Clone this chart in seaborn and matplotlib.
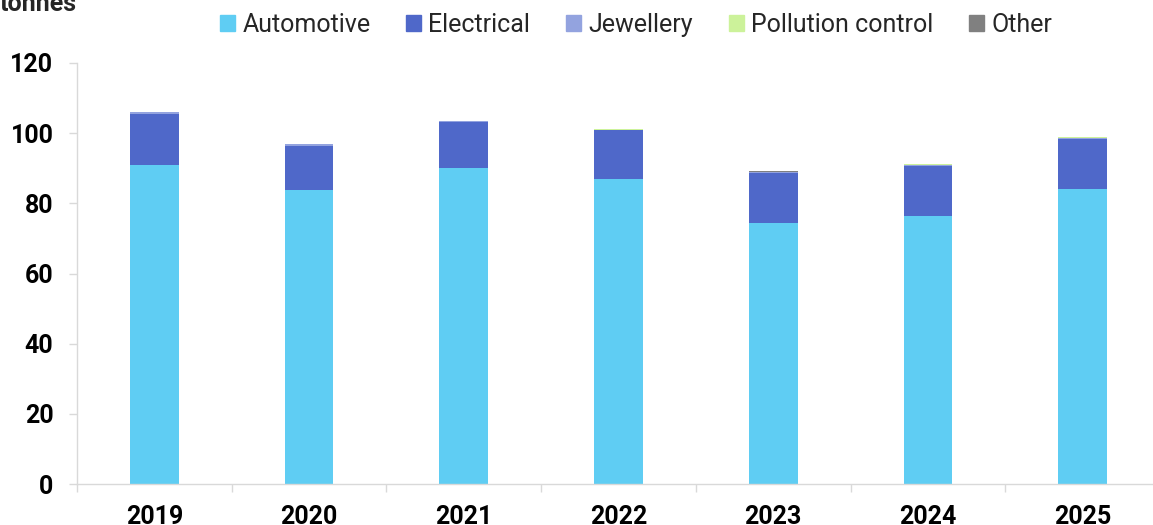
import matplotlib.pyplot as plt
import matplotlib.patches as mpatches
import numpy as np
import pandas as pd
import seaborn as sns

years = ['2019', '2020', '2021', '2022', '2023', '2024', '2025']
automotive = [90.9, 83.8, 90.0, 86.9, 74.4, 76.3, 84.1]
electrical = [14.7, 12.6, 13.1, 13.9, 14.2, 14.2, 14.1]
jewellery = [0.4, 0.4, 0.3, 0.2, 0.2, 0.3, 0.3]
pollution = [0.05, 0.05, 0.05, 0.1, 0.25, 0.3, 0.4]
other = [0.1, 0.1, 0.1, 0.1, 0.1, 0.1, 0.1]

segments = ['Automotive', 'Electrical', 'Jewellery', 'Pollution control', 'Other']
colors = ['#5FCDF3', '#4F68C9', '#93A3DF', '#CCF29A', '#808080']

df = pd.DataFrame({'year': years, 'Automotive': automotive, 'Electrical': electrical,
                   'Jewellery': jewellery, 'Pollution control': pollution, 'Other': other})

sns.set_theme(style='white')
plt.rcParams['font.family'] = ['Roboto', 'DejaVu Sans']

fig = plt.figure(figsize=(11.53, 5.25), dpi=100)
ax = fig.add_axes([77 / 1153, 41 / 525, 1083 / 1153, 421 / 525])

# stacked bars: draw cumulative totals from the top layer down
cum = df[segments].cumsum(axis=1)
for seg, col in reversed(list(zip(segments, colors))):
    sns.barplot(x=df['year'], y=cum[seg], color=col, width=0.315,
                linewidth=0, saturation=1, ax=ax)

ax.set_ylim(0, 120)
ax.set_yticks(np.arange(0, 121, 20))
ax.set_xlim(-0.5, 6.5)
ax.set_xlabel('')
ax.set_ylabel('')

sns.despine(ax=ax)
for s in ['left', 'bottom']:
    ax.spines[s].set_color('#D9D9D9')
    ax.spines[s].set_linewidth(1)

ax.set_xticks(np.arange(-0.5, 7, 1), minor=True)
ax.tick_params(axis='x', which='major', length=0, pad=15)
ax.tick_params(axis='x', which='minor', length=6, color='#D9D9D9', width=1, bottom=True)
ax.tick_params(axis='y', length=6, color='#D9D9D9', width=1, pad=11, left=True)
for lab in ax.get_xticklabels() + ax.get_yticklabels():
    lab.set_fontsize(18)
    lab.set_fontweight('bold')
    lab.set_color('#000000')

fig.text(0.0, 1 - 11 / 525, 'tonnes', fontsize=18, fontweight='bold', va='baseline', ha='left')

handles = [mpatches.Patch(color=c, label=s) for s, c in zip(segments, colors)]
fig.legend(handles=handles, loc='center', bbox_to_anchor=(636 / 1153, 1 - 25 / 525),
           ncol=5, frameon=False, fontsize=18, handlelength=0.6, handleheight=0.6,
           handletextpad=0.3, columnspacing=1.42, borderaxespad=0)

fig.savefig('out.png', dpi=100)
